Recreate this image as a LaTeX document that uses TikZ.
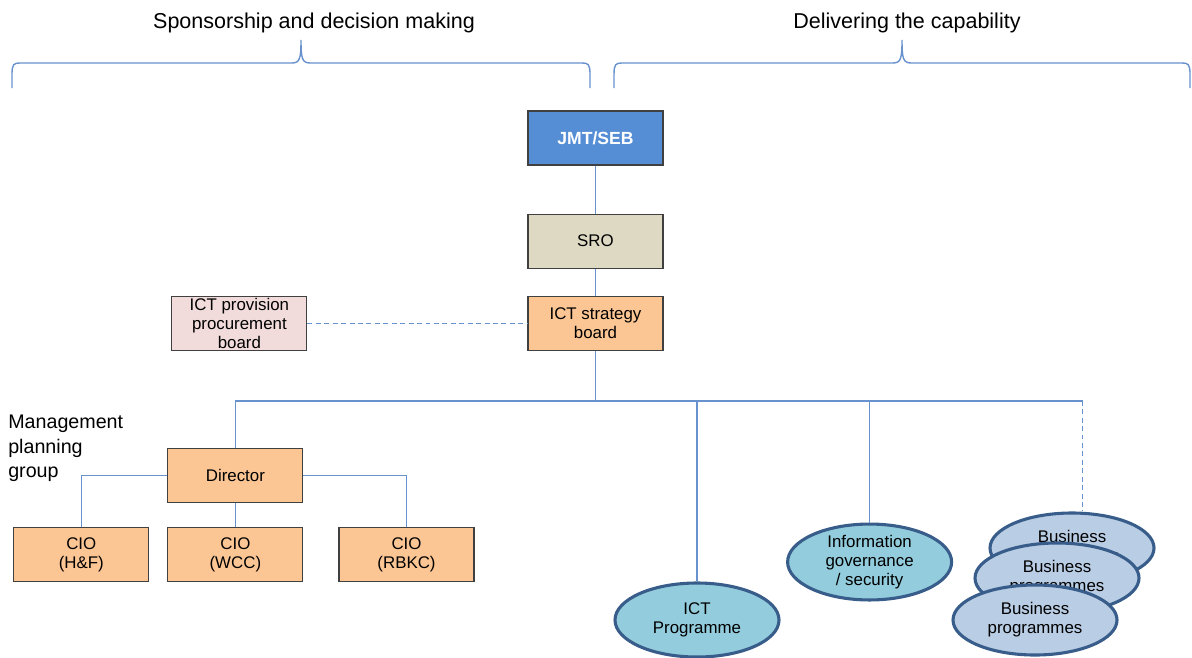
\documentclass[tikz,border=0pt]{standalone}
\usepackage{fontspec}
\setmainfont{Liberation Sans}
\usepackage{tikz}
\usetikzlibrary{positioning,shapes.geometric}
\definecolor{linkblue}{RGB}{104,146,206}
\definecolor{boxedge}{RGB}{64,64,64}
\definecolor{jmtblue}{RGB}{85,142,213}
\definecolor{srotan}{RGB}{221,217,195}
\definecolor{ictorange}{RGB}{251,198,148}
\definecolor{procpink}{RGB}{242,220,219}
\definecolor{progteal}{RGB}{147,205,221}
\definecolor{busblue}{RGB}{185,205,229}
\definecolor{ovaledge}{RGB}{56,93,138}
\tikzset{
	orgbox/.style={draw=boxedge, line width=0.8pt, minimum width=3.375cm, minimum height=1.35cm, inner sep=1pt, align=center, font=\fontsize{12}{13.5}\selectfont},
	oval/.style={ellipse, draw=ovaledge, line width=2.2pt, minimum width=4.1cm, minimum height=1.85cm, inner sep=0pt, align=center, font=\fontsize{12}{13.5}\selectfont},
	link/.style={draw=linkblue, line width=1pt},
	dlink/.style={link, dash pattern=on 3.5pt off 2.5pt},
	heading/.style={font=\fontsize{15.3}{18}\selectfont, anchor=base},
	brace/.style={draw=linkblue, line width=1pt}
}

\begin{document}
\begin{tikzpicture}
		\useasboundingbox (0,0) rectangle (29.8,-16.425);
		
		\node[heading] (spons) at (7.85,-0.71) {Sponsorship and decision making};
		\node[heading] (deliv) at (22.675,-0.71) {Delivering the capability};
		\draw[brace] (0.3,-2.2) -- (0.3,-1.85) .. controls (0.3,-1.6) and (0.35,-1.575) .. (0.5,-1.575) -- (7.3,-1.575) .. controls (7.5,-1.575) and (7.525,-1.45) .. (7.525,-1.0) .. controls (7.525,-1.45) and (7.55,-1.575) .. (7.75,-1.575) -- (14.55,-1.575) .. controls (14.7,-1.575) and (14.75,-1.6) .. (14.75,-1.85) -- (14.75,-2.2);
		\draw[brace] (15.35,-2.2) -- (15.35,-1.85) .. controls (15.35,-1.6) and (15.4,-1.575) .. (15.55,-1.575) -- (22.325,-1.575) .. controls (22.525,-1.575) and (22.55,-1.45) .. (22.55,-1.0) .. controls (22.55,-1.45) and (22.575,-1.575) .. (22.775,-1.575) -- (29.55,-1.575) .. controls (29.7,-1.575) and (29.75,-1.6) .. (29.75,-1.85) -- (29.75,-2.2);
		
		\node(jmt) [orgbox, fill=jmtblue, text=white, font=\fontsize{12.5}{15}\selectfont\bfseries] at (14.8875,-3.45) {JMT/SEB};
		\node(sro) [orgbox, fill=srotan, below=1.2cm of jmt] {SRO};
		\node(strat) [orgbox, fill=ictorange, below=0.675cm of sro] {ICT strategy\\board};
		\node(proc) [orgbox, fill=procpink, left=5.5cm of strat] {ICT provision\\procurement\\board};
		
		\node(dir) [orgbox, fill=ictorange, below left=2.425cm and 5.6cm of strat] {Director};
		\node(ciowcc) [orgbox, fill=ictorange, below=0.6cm of dir] {CIO\\(WCC)};
		\node(ciohf) [orgbox, fill=ictorange, left=0.45cm of ciowcc] {CIO\\(H\&F)};
		\node(ciorbkc) [orgbox, fill=ictorange, right=0.875cm of ciowcc] {CIO\\(RBKC)};
		\node(mpg) [anchor=north west, inner sep=0pt, align=left, font=\fontsize{14}{17.4}\selectfont] at (0.2,-10.375) {Management\\planning\\group};
		
		\node(ictprog) [oval, fill=progteal] at (17.425,-15.5) {ICT\\Programme};
		\node(infogov) [oval, fill=progteal] at (21.74,-14.05) {Information\\governance\\/ security};
		\node(busa) [oval, fill=busblue, minimum height=1.75cm] at (26.8,-13.7) {Business\\programmes};
		\node(busb) [oval, fill=busblue, minimum height=1.75cm] at (26.425,-14.45) {Business\\programmes};
		\node(busc) [oval, fill=busblue, minimum height=1.75cm] at (25.875,-15.5) {Business\\programmes};
		
		\coordinate[below=1.25cm of strat.south] (hub);
		\coordinate[right=12.175cm of hub] (busjoin);
		
		\draw[link] (jmt) -- (sro);
		\draw[link] (sro) -- (strat);
		\draw[dlink] (proc) -- (strat);
		\draw[link] (strat) -- (hub);
		\draw[link] (hub) -| (dir);
		\draw[link] (hub) -| (ictprog);
		\draw[link] (hub) -| (infogov);
		\draw[link] (hub) -- (busjoin);
		\draw[dlink] (busjoin) -- (busjoin |- busa.north);
		
		\draw[link] (dir.west) -| (ciohf);
		\draw[link] (dir) -- (ciowcc);
		\draw[link] (dir.east) -| (ciorbkc);
	\end{tikzpicture}
\end{document}
